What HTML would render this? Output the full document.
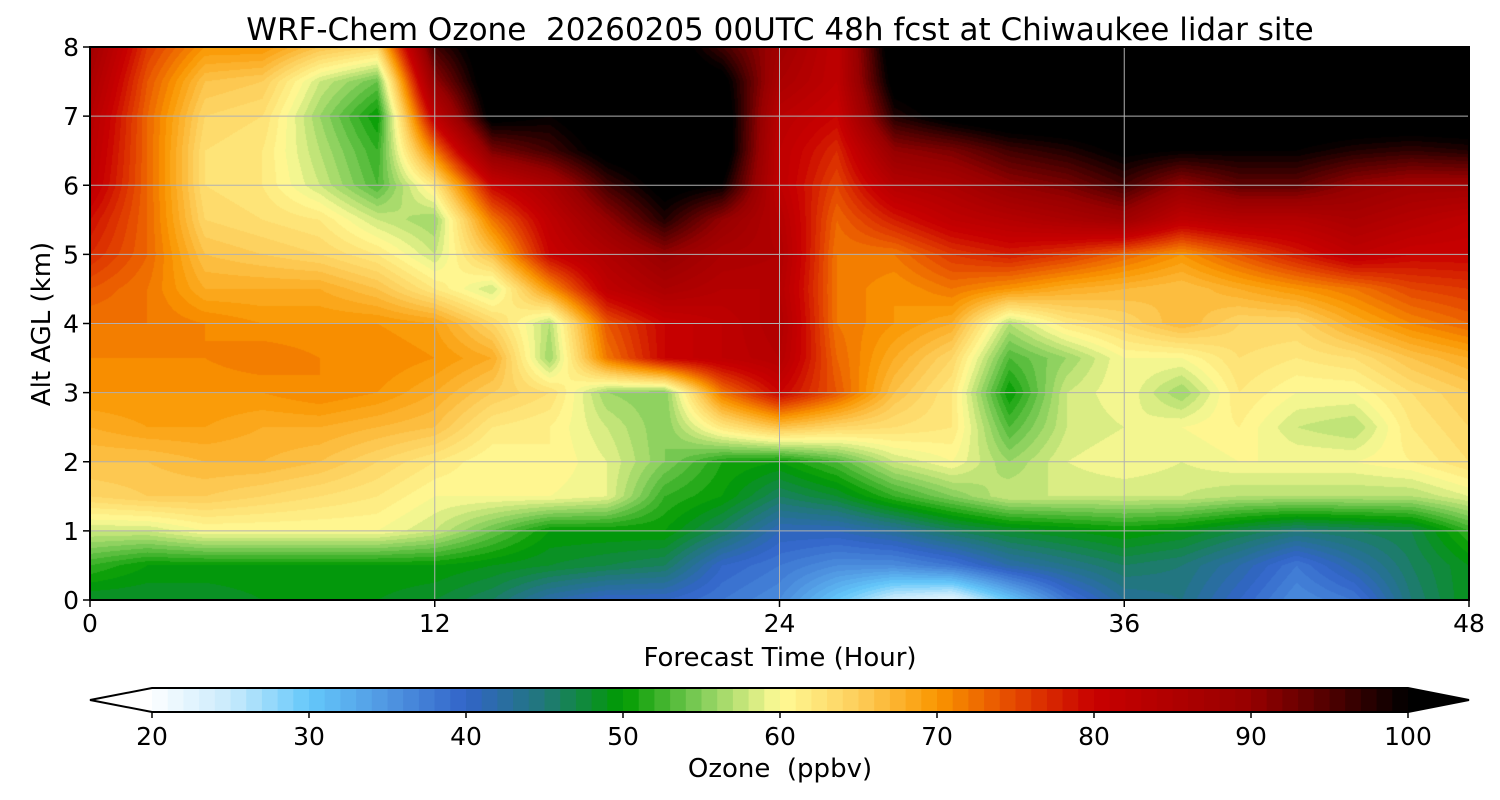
<!DOCTYPE html>
<html><head><meta charset="utf-8"><style>
body{margin:0;background:#fff;}
#wrap{position:relative;width:1500px;height:800px;overflow:hidden;font-family:"DejaVu Sans","Liberation Sans",sans-serif;}
#heat{position:absolute;left:90px;top:47px;}
#ov{position:absolute;left:0;top:0;}
text{white-space:pre;}
</style></head><body>
<div id="wrap">
<canvas id="heat" width="1379" height="553"></canvas>
<svg id="ov" width="1500" height="800">
<text x="780" y="40" font-size="31" text-anchor="middle" xml:space="preserve">WRF-Chem Ozone  20260205 00UTC 48h fcst at Chiwaukee lidar site</text>
<g id="grid"></g>
<rect x="90" y="47" width="1379" height="553" fill="none" stroke="#000" stroke-width="2"/>
<g id="xt"></g>
<g id="yt"></g>
<text x="780" y="666" font-size="26" text-anchor="middle">Forecast Time (Hour)</text>
<text transform="translate(50,324) rotate(-90)" font-size="26" text-anchor="middle">Alt AGL (km)</text>
<g id="cb"></g>
<text x="780" y="777" font-size="26" text-anchor="middle" xml:space="preserve">Ozone  (ppbv)</text>
</svg>
</div>
<script>
const hours=[0,2,4,6,8,10,12,14,16,18,20,22,24,26,28,30,32,34,36,38,40,42,44,46,48];
const alts=[0,0.5,1,1.5,2,2.5,3,3.5,4,4.5,5,5.5,6,6.5,7,7.5,8];
const ozone=[
[48,48,48,49,49,49,48,46,42,40,40,38,36,30,24,22,30,38,43,44,40,36,38,45,49],
[52,50,50,50,50,50,50,49,48,47,46,40,38,36,36,38,42,44,46,45,42,38,42,46,49],
[58,58,60,60,60,60,58,54,50,50,50,46,41,41,43,46,48,49,50,49,47,45,46,47,52],
[64,65,65,64,63,62,60,60,60,59,52,50,46,48,52,55,58,58,58,58,57,57,57,57,59],
[66,66,67,67,66,64,62,60,61,59,55,51,50,53,58,60,56,59,60,59,60,60,60,61,63],
[68,69,69,68,68,67,66,62,61,58,55,62,66,64,63,62,53,58,59,60,61,58,57,62,64],
[70,70,70,70,71,70,68,65,63,56,55,72,80,74,66,62,50,58,60,56,62,60,60,63,65],
[71,71,71,72,71,71,70,68,56,72,80,82,84,73,68,64,53,56,60,60,63,62,63,66,68],
[72,72,71,70,70,70,69,64,57,74,80,82,85,72,70,68,57,62,64,67,64,64,68,71,73],
[74,72,68,68,68,66,62,58,70,82,86,84,84,72,70,72,70,68,67,66,68,70,72,75,76],
[77,73,66,65,64,62,58,66,80,85,90,86,85,72,72,76,78,76,73,70,74,78,82,80,80],
[79,73,64,63,62,58,56,72,82,90,98,90,84,73,78,82,84,86,88,82,84,84,86,84,82],
[82,73,63,62,58,53,62,80,86,96,102,100,82,75,84,86,90,92,96,90,94,94,90,88,88],
[83,73,63,62,57,52,72,92,96,102,104,104,82,77,90,92,96,98,101,100,100,100,98,97,98],
[84,73,64,63,56,50,82,102,100,104,104,104,83,80,98,102,104,104,104,104,104,104,104,104,104],
[86,74,66,65,58,54,90,104,104,104,104,102,86,82,102,104,104,104,104,104,104,104,104,104,104],
[88,76,70,70,66,64,96,104,104,104,104,96,88,82,104,104,104,104,104,104,104,104,104,104,104]
];
const cbTicks=[20,30,40,50,60,70,80,90,100];
const xTicks=[0,12,24,36,48];
const yTicks=[0,1,2,3,4,5,6,7,8];
const anchorV=[20,25,30,35,40,45,50,55,60,65,70,75,80,90,95,100];
const anchorC=[[252,254,255],[200,234,252],[100,200,250],[80,150,225],[50,100,200],[32,120,120],[0,155,0],[130,205,90],[255,250,150],[253,205,90],[250,150,0],[228,70,0],[200,0,0],[150,0,0],[80,0,0],[0,0,0]];
const X0=90,X1=1469,Y0=600,Y1=47;
function xPx(h){return X0+(h-0)/(48-0)*(X1-X0);}
function yPx(k){return Y0-(k/8)*(Y0-Y1);}
function colorOf(v){
  if(v<20)return [255,255,255];
  if(v>=100)return [0,0,0];
  const lv=Math.floor(v)+0.5;
  for(let i=0;i<anchorV.length-1;i++){
    if(lv>=anchorV[i]&&lv<=anchorV[i+1]){
      const t=(lv-anchorV[i])/(anchorV[i+1]-anchorV[i]);
      const a=anchorC[i],b=anchorC[i+1];
      return [a[0]+(b[0]-a[0])*t,a[1]+(b[1]-a[1])*t,a[2]+(b[2]-a[2])*t].map(Math.round);
    }
  }
  return [0,0,0];
}
function sample(h,k){
  let i=0;while(i<hours.length-2&&h>hours[i+1])i++;
  let j=0;while(j<alts.length-2&&k>alts[j+1])j++;
  const tx=Math.min(1,Math.max(0,(h-hours[i])/(hours[i+1]-hours[i])));
  const ty=Math.min(1,Math.max(0,(k-alts[j])/(alts[j+1]-alts[j])));
  const a=ozone[j][i],b=ozone[j][i+1],c=ozone[j+1][i],d=ozone[j+1][i+1];
  return (a*(1-tx)+b*tx)*(1-ty)+(c*(1-tx)+d*tx)*ty;
}
const cv=document.getElementById('heat'),ctx=cv.getContext('2d');
const W=cv.width,H=cv.height,img=ctx.createImageData(W,H);
for(let py=0;py<H;py++){
  const k=(Y0-(Y1+py+0.5))/(Y0-Y1)*8;
  for(let px=0;px<W;px++){
    const h=(px+0.5)/(X1-X0)*48;
    const c=colorOf(sample(h,k));
    const o=(py*W+px)*4;img.data[o]=c[0];img.data[o+1]=c[1];img.data[o+2]=c[2];img.data[o+3]=255;
  }
}
ctx.putImageData(img,0,0);
const NS='http://www.w3.org/2000/svg';
function mk(tag,attrs,parent){const e=document.createElementNS(NS,tag);for(const k in attrs)e.setAttribute(k,attrs[k]);parent.appendChild(e);return e;}
const grid=document.getElementById('grid'),xt=document.getElementById('xt'),yt=document.getElementById('yt'),cb=document.getElementById('cb');
xTicks.forEach(t=>{
  const x=xPx(t);
  if(t>0&&t<48){const g=mk('line',{x1:x,x2:x,y1:Y1,y2:Y0,stroke:'#b0b0b0','stroke-width':1},grid);
    
    }
  const l=mk('line',{x1:x,x2:x,y1:Y0,y2:Y0+7,stroke:'#000','stroke-width':1.5},xt);
  
  
  const tx=mk('text',{x:x,y:Y0+32,'font-size':25,'text-anchor':'middle'},xt);tx.textContent=t;
  
  
});
yTicks.forEach(t=>{
  const y=yPx(t);
  if(t>0&&t<8){const g=mk('line',{x1:X0,x2:X1,y1:y,y2:y,stroke:'#b0b0b0','stroke-width':1},grid);
    
    }
  const l=mk('line',{x1:X0-7,x2:X0,y1:y,y2:y,stroke:'#000','stroke-width':1.5},yt);
  
  
  const tx=mk('text',{x:X0-11,y:y+9,'font-size':25,'text-anchor':'end'},yt);tx.textContent=t;
  
  
});
const CB0=152,CB1=1408,CBT=688,CBB=712;
function cbx(v){return CB0+(v-20)/80*(CB1-CB0);}
for(let v=20;v<100;v++){
  const c=colorOf(v);
  const r=mk('rect',{x:cbx(v),y:CBT,width:cbx(v+1)-cbx(v)+0.6,height:CBB-CBT,fill:`rgb(${c[0]},${c[1]},${c[2]})`},cb);
  
  
}
const lo=mk('polygon',{points:`${CB0},${CBT} 90,${(CBT+CBB)/2} ${CB0},${CBB}`,fill:'#fff'},cb);


const hi=mk('polygon',{points:`${CB1},${CBT} 1469,${(CBT+CBB)/2} ${CB1},${CBB}`,fill:'#000'},cb);


const out=mk('polygon',{points:`90,${(CBT+CBB)/2} ${CB0},${CBT} ${CB1},${CBT} 1469,${(CBT+CBB)/2} ${CB1},${CBB} ${CB0},${CBB}`,fill:'none',stroke:'#000','stroke-width':2},cb);


cbTicks.forEach(t=>{
  const x=cbx(t);
  const l=mk('line',{x1:x,x2:x,y1:CBB,y2:CBB+6,stroke:'#000','stroke-width':1.5},cb);
  
  
  const tx=mk('text',{x:x,y:CBB+33,'font-size':25,'text-anchor':'middle'},cb);tx.textContent=t;
  
  
});
</script>
</body></html>
